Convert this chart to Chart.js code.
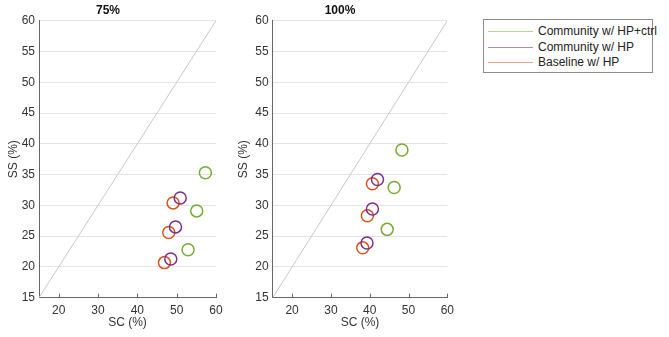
<!DOCTYPE html>
<html>
<head>
<meta charset="utf-8">
<script src="https://cdn.jsdelivr.net/npm/chart.js@4.4.0/dist/chart.umd.min.js"></script>
<style>
  body { margin: 0; background: #fff; font-family: "Liberation Sans", Arial, sans-serif; }
  .panel { position: absolute; top: 0; width: 230px; height: 337px; }
  #legend { position: absolute; left: 483px; top: 19px; width: 168px; height: 52px;
            border: 1px solid #8c8c8c; background: #fff; }
  .row { position: absolute; left: 0; height: 15px; font-size: 12px; color: #222; white-space: nowrap; }
  .row span.ln { position: absolute; left: 4px; top: 7px; width: 45px; height: 1px; }
  .row span.tx { position: absolute; left: 54px; top: 0; line-height: 15px; }
</style>
</head>
<body>
<div class="panel" style="left:0"><canvas id="c75"></canvas></div>
<div class="panel" style="left:230px"><canvas id="c100"></canvas></div>
<div id="legend"></div>

<script>
// series names and colours
const seriesNames = ['Community w/ HP+ctrl', 'Community w/ HP', 'Baseline w/ HP'];
const seriesColors = ['#77AC30', '#7E2F8E', '#D95319'];
const legendColors = ['#b4d494', '#b08abb', '#eca58a'];

// 75% panel (SC, SS)
const ctrlSC75 = [57.3, 55.1, 52.9];
const ctrlSS75 = [35.3, 29.1, 22.8];
const commSC75 = [50.9, 49.7, 48.5];
const commSS75 = [31.2, 26.5, 21.3];
const baseSC75 = [49.1, 48.0, 46.9];
const baseSS75 = [30.4, 25.6, 20.7];

// 100% panel (SC, SS)
const ctrlSC100 = [48.3, 46.3, 44.5];
const ctrlSS100 = [39.0, 32.9, 26.1];
const commSC100 = [42.0, 40.7, 39.3];
const commSS100 = [34.2, 29.4, 23.9];
const baseSC100 = [40.7, 39.4, 38.2];
const baseSS100 = [33.5, 28.3, 23.1];

// axes
const xTickVals = [20, 30, 40, 50, 60];
const yTickVals = [15, 20, 25, 30, 35, 40, 45, 50, 55, 60];
const diagLine = [15, 60];

const pts = (xs, ys) => xs.map((x, i) => ({ x: x, y: ys[i] }));

// small tick marks pointing up into the plot from the x axis
const innerTicks = {
    id: 'innerTicks',
    afterDraw(chart) {
        const xs = chart.scales.x, ctx = chart.ctx, b = chart.chartArea.bottom;
        ctx.save();
        ctx.strokeStyle = '#666';
        ctx.lineWidth = 1;
        xTickVals.forEach(v => {
            const px = Math.round(xs.getPixelForValue(v)) + 0.5;
            ctx.beginPath();
            ctx.moveTo(px, b);
            ctx.lineTo(px, b - 4);
            ctx.stroke();
        });
        ctx.restore();
    }
};

function makePanel(id, title, xs, ys, yAxisWidth, padRight) {
    const datasets = [];
    // purple on top, then orange, then green
    [1, 2, 0].forEach(k => {
        datasets.push({
            label: seriesNames[k],
            data: pts(xs[k], ys[k]),
            borderColor: seriesColors[k],
            backgroundColor: 'rgba(0,0,0,0)',
            pointRadius: 6,
            pointHoverRadius: 6,
            borderWidth: 1.5,
            showLine: false
        });
    });
    datasets.push({
        type: 'line',
        label: 'diag',
        data: pts(diagLine, diagLine),
        borderColor: '#c8c8c8',
        borderWidth: 1,
        pointRadius: 0
    });

    new Chart(document.getElementById(id), {
        type: 'scatter',
        data: { datasets: datasets },
        plugins: [innerTicks],
        options: {
            responsive: true,
            maintainAspectRatio: false,
            animation: false,
            layout: { padding: { left: 0, right: padRight, top: 0, bottom: 0 } },
            plugins: {
                legend: { display: false },
                tooltip: { enabled: false },
                title: {
                    display: true,
                    text: title,
                    color: '#111',
                    font: { family: 'Liberation Sans, Arial', size: 12, weight: 'bold' },
                    padding: { top: 3, bottom: 3.3 }
                }
            },
            scales: {
                x: {
                    type: 'linear',
                    min: 15, max: 60,
                    afterBuildTicks: s => { s.ticks = xTickVals.map(v => ({ value: v })); },
                    afterFit: s => { s.height = 39.3; },
                    grid: { display: false, drawTicks: false, tickLength: 0 },
                    border: { color: '#666', width: 1 },
                    ticks: { color: '#333', padding: 6, font: { family: 'Liberation Sans, Arial', size: 12 } },
                    title: { display: true, text: 'SC (%)', color: '#333', padding: { top: 0, bottom: 7 },
                             font: { family: 'Liberation Sans, Arial', size: 12 } }
                },
                y: {
                    type: 'linear',
                    min: 15, max: 60,
                    afterBuildTicks: s => { s.ticks = yTickVals.map(v => ({ value: v })); },
                    afterFit: s => { s.width = yAxisWidth; },
                    grid: { color: '#e4e4e4', drawTicks: false },
                    border: { color: '#666', width: 1 },
                    ticks: { color: '#333', padding: 4, font: { family: 'Liberation Sans, Arial', size: 12 } },
                    title: { display: true, text: 'SS (%)', color: '#333', padding: { top: 6, bottom: 0 },
                             font: { family: 'Liberation Sans, Arial', size: 12 } }
                }
            }
        }
    });
}

makePanel('c75', '75%',
    [ctrlSC75, commSC75, baseSC75], [ctrlSS75, commSS75, baseSS75], 39, 14);
makePanel('c100', '100%',
    [ctrlSC100, commSC100, baseSC100], [ctrlSS100, commSS100, baseSS100], 42.7, 10);

// legend
const legend = document.getElementById('legend');
seriesNames.forEach((name, i) => {
    const row = document.createElement('div');
    row.className = 'row';
    row.style.top = (4 + i * 15.5) + 'px';
    row.innerHTML = '<span class="ln" style="background:' + legendColors[i] + '"></span>' +
                    '<span class="tx">' + name + '</span>';
    legend.appendChild(row);
});
</script>
</body>
</html>
